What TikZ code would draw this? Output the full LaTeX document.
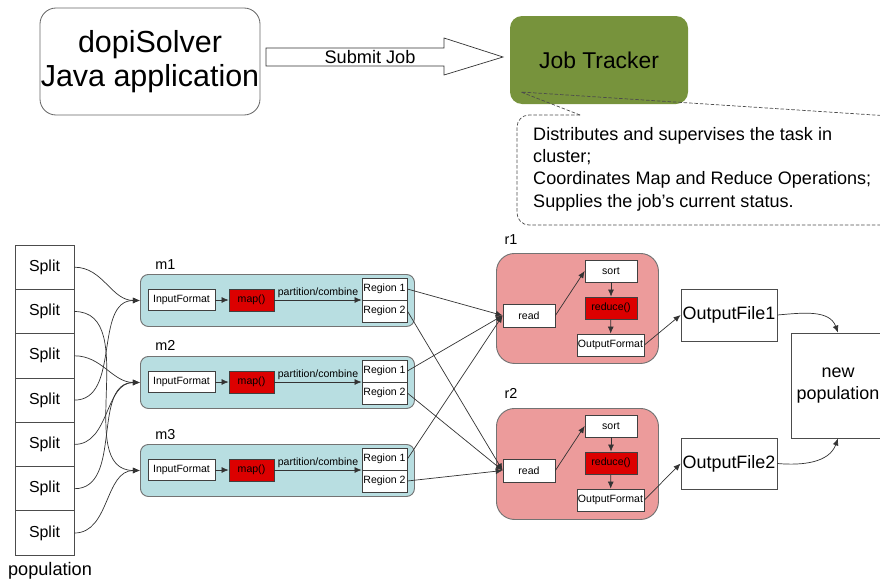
\documentclass[tikz,border=0pt]{standalone}
\usepackage{fontspec}
\setmainfont{Liberation Sans}
\usepackage{tikz}
\usepackage{xcolor}
\usetikzlibrary{
    arrows,
    arrows.meta,
    calc,
    positioning
}
\definecolor{mapfill}{RGB}{184,222,225}
\definecolor{redbg}{RGB}{236,155,155}
\definecolor{redfill}{RGB}{220,0,0}
\definecolor{olive}{RGB}{119,147,60}
\newlength\pxu
\setlength\pxu{0.03cm}

\begin{document}
\begin{tikzpicture}[x=0.03cm, y=0.03cm, >={Latex[length=6pt,width=5pt]},
    smallbox/.style={draw=black!75, fill=white, inner sep=0pt, line width=0.6pt,
        font=\fontsize{9}{11}\selectfont},
    redbox/.style={smallbox, fill=redfill},
    mapbox/.style={draw=black!55, fill=mapfill, rounded corners=8\pxu, line width=0.8pt},
    reducebox/.style={draw=black!55, fill=redbg, rounded corners=18\pxu, line width=0.8pt},
    splitbox/.style={draw=black!70, line width=0.7pt, minimum width=59\pxu, minimum height=44.3\pxu,
        inner sep=0pt, font=\fontsize{13.6}{16}\selectfont},
    filebox/.style={draw=black!70, line width=0.7pt, inner sep=0pt, align=center,
        font=\fontsize{15.3}{19}\selectfont},
    lbl/.style={inner sep=0pt, font=\fontsize{12.3}{14}\selectfont},
    link/.style={->, draw=black!80, line width=0.6pt}
]
    \useasboundingbox (0,0) rectangle (880,-583);

    % client and job tracker
    \node[draw=black!60, line width=0.7pt, rounded corners=16\pxu, align=center, inner sep=0pt,
        minimum width=220\pxu, minimum height=107\pxu, font=\fontsize{26}{29}\selectfont]
        (app) at (150,-61.5) {dopiSolver\\Java application};
    \node[fill=olive, rounded corners=12\pxu, inner sep=0pt, minimum width=178\pxu,
        minimum height=88\pxu, font=\fontsize{19.5}{22}\selectfont]
        (jt) at (599,-60) {Job Tracker};
    \draw[black!80, line width=0.6pt]
        (266,-48) -- (444,-48) -- (444,-38) -- (503,-57) -- (444,-75) -- (444,-66) -- (266,-66) -- cycle;
    \node[inner sep=0pt, font=\fontsize{15.5}{18}\selectfont] (submit) at (370,-57) {Submit Job};

    % callout
    \coordinate (jttip) at (521,-92);
    \draw[black!70, dash pattern=on 3pt off 1.6pt, line width=0.6pt, rounded corners=12\pxu]
        (580,-115) -- (517,-115) -- (517,-225) -- (905,-225);
    \draw[black!70, dash pattern=on 3pt off 1.6pt, line width=0.6pt]
        (580,-115) -- (jttip) -- (905,-117);
    \node[anchor=north west, align=left, inner sep=0pt, font=\fontsize{15.4}{19}\selectfont]
        (notes) at (533,-127) {Distributes and supervises the task in\\cluster;\\Coordinates Map and Reduce Operations;\\Supplies the job’s current status.};

    % splits
    \node[splitbox] (s1) at (44.5,-267.2) {Split};
    \node[splitbox] (s2) at (44.5,-311.5) {Split};
    \node[splitbox] (s3) at (44.5,-355.8) {Split};
    \node[splitbox] (s4) at (44.5,-400.1) {Split};
    \node[splitbox] (s5) at (44.5,-444.4) {Split};
    \node[splitbox] (s6) at (44.5,-488.7) {Split};
    \node[splitbox] (s7) at (44.5,-533.0) {Split};
    \node[inner sep=0pt, font=\fontsize{15.5}{18}\selectfont] (pop) at (50,-571) {population};

    % mappers
    \begin{scope}[shift={(140,-274)}]
        \node[mapbox, anchor=north west, minimum width=274\pxu, minimum height=52\pxu] (m1) at (0,0) {};
        \node[lbl] (m1lbl) at (25.5,9.5) {m1};
        \node[smallbox, minimum width=67\pxu, minimum height=21\pxu] (m1in) at (41.5,-26) {InputFormat};
        \node[redbox, minimum width=45\pxu, minimum height=22\pxu] (m1map) at (111.5,-26) {map()};
        \node[smallbox, minimum width=45\pxu, minimum height=22\pxu] (m1ra) at (244.5,-15) {Region 1};
        \node[smallbox, minimum width=45\pxu, minimum height=22\pxu] (m1rb) at (244.5,-37) {Region 2};
        \draw[link] (m1in) -- (m1map);
        \draw[link] (m1map) -- node[above=-1.5pt, font=\fontsize{9}{11}\selectfont] {partition/combine} (m1map -| m1ra.west);
    \end{scope}
    \begin{scope}[shift={(140,-356)}]
        \node[mapbox, anchor=north west, minimum width=274\pxu, minimum height=52\pxu] (m2) at (0,0) {};
        \node[lbl] (m2lbl) at (25.5,11) {m2};
        \node[smallbox, minimum width=67\pxu, minimum height=21\pxu] (m2in) at (41.5,-26) {InputFormat};
        \node[redbox, minimum width=45\pxu, minimum height=22\pxu] (m2map) at (111.5,-26) {map()};
        \node[smallbox, minimum width=45\pxu, minimum height=22\pxu] (m2ra) at (244.5,-15) {Region 1};
        \node[smallbox, minimum width=45\pxu, minimum height=22\pxu] (m2rb) at (244.5,-37) {Region 2};
        \draw[link] (m2in) -- (m2map);
        \draw[link] (m2map) -- node[above=-1.5pt, font=\fontsize{9}{11}\selectfont] {partition/combine} (m2map -| m2ra.west);
    \end{scope}
    \begin{scope}[shift={(140,-444)}]
        \node[mapbox, anchor=north west, minimum width=274\pxu, minimum height=52\pxu] (m3) at (0,0) {};
        \node[lbl] (m3lbl) at (25.5,9.5) {m3};
        \node[smallbox, minimum width=67\pxu, minimum height=21\pxu] (m3in) at (41.5,-26) {InputFormat};
        \node[redbox, minimum width=45\pxu, minimum height=22\pxu] (m3map) at (111.5,-26) {map()};
        \node[smallbox, minimum width=45\pxu, minimum height=22\pxu] (m3ra) at (244.5,-15) {Region 1};
        \node[smallbox, minimum width=45\pxu, minimum height=22\pxu] (m3rb) at (244.5,-37) {Region 2};
        \draw[link] (m3in) -- (m3map);
        \draw[link] (m3map) -- node[above=-1.5pt, font=\fontsize{9}{11}\selectfont] {partition/combine} (m3map -| m3ra.west);
    \end{scope}

    % reducers
    \begin{scope}[shift={(496,-253)}]
        \node[reducebox, anchor=north west, minimum width=162\pxu, minimum height=110\pxu] (r1) at (0,0) {};
        \node[lbl] (r1lbl) at (15,13) {r1};
        \node[smallbox, minimum width=52\pxu, minimum height=23\pxu] (r1read) at (33,-62.5) {read};
        \node[smallbox, minimum width=52\pxu, minimum height=22\pxu] (r1sort) at (115,-18) {sort};
        \node[redbox, minimum width=52\pxu, minimum height=22\pxu] (r1red) at (115,-55) {reduce()};
        \node[smallbox, minimum width=67\pxu, minimum height=22\pxu] (r1out) at (114.5,-92) {OutputFormat};
        \draw[link] (r1read.east) -- (r1sort.west);
        \draw[link] (r1sort) -- (r1red);
        \draw[link] (r1red) -- (r1out);
    \end{scope}
    \begin{scope}[shift={(496,-408)}]
        \node[reducebox, anchor=north west, minimum width=162\pxu, minimum height=111\pxu] (r2) at (0,0) {};
        \node[lbl] (r2lbl) at (15,14.5) {r2};
        \node[smallbox, minimum width=52\pxu, minimum height=23\pxu] (r2read) at (33,-62.5) {read};
        \node[smallbox, minimum width=52\pxu, minimum height=22\pxu] (r2sort) at (115,-18) {sort};
        \node[redbox, minimum width=52\pxu, minimum height=22\pxu] (r2red) at (115,-55) {reduce()};
        \node[smallbox, minimum width=67\pxu, minimum height=22\pxu] (r2out) at (114.5,-92) {OutputFormat};
        \draw[link] (r2read.east) -- (r2sort.west);
        \draw[link] (r2sort) -- (r2red);
        \draw[link] (r2red) -- (r2out);
    \end{scope}

    % outputs
    \node[filebox, minimum width=96\pxu, minimum height=52\pxu] (of1) at (729,-315) {OutputFile1};
    \node[filebox, minimum width=96\pxu, minimum height=51\pxu] (of2) at (729,-463.5) {OutputFile2};
    \node[filebox, minimum width=94\pxu, minimum height=105\pxu] (newpop) at (838,-385.5) {new\\population};

    % connections
    \draw[link] (s1.east) to[out=0,in=180] (m1.west);
    \draw[link] (s2.east) to[out=0,in=180] (m3.west);
    \draw[link] (s3.east) to[out=0,in=180] (m2.west);
    \draw[link] (s4.east) to[out=0,in=180] (m1.west);
    \draw[link] (s5.east) to[out=0,in=180] (m2.west);
    \draw[link] (s6.east) to[out=0,in=180] (m2.west);
    \draw[link] (s7.east) to[out=0,in=180] (m3.west);

    \draw[link] (m1ra.east) -- (r1read.west);
    \draw[link] (m1rb.east) -- (r2read.west);
    \draw[link] (m2ra.east) -- (r1read.west);
    \draw[link] (m2rb.east) -- (r2read.west);
    \draw[link] (m3ra.east) -- (r1read.west);
    \draw[link] (m3rb.east) -- (r2read.west);

    \draw[link] (r1out.east) -- (of1.west);
    \draw[link] (r2out.east) -- (of2.west);
    \draw[link] (of1.east) to[out=5,in=110] (newpop.north);
    \draw[link] (of2.east) to[out=-5,in=-110] (newpop.south);
\end{tikzpicture}
\end{document}
